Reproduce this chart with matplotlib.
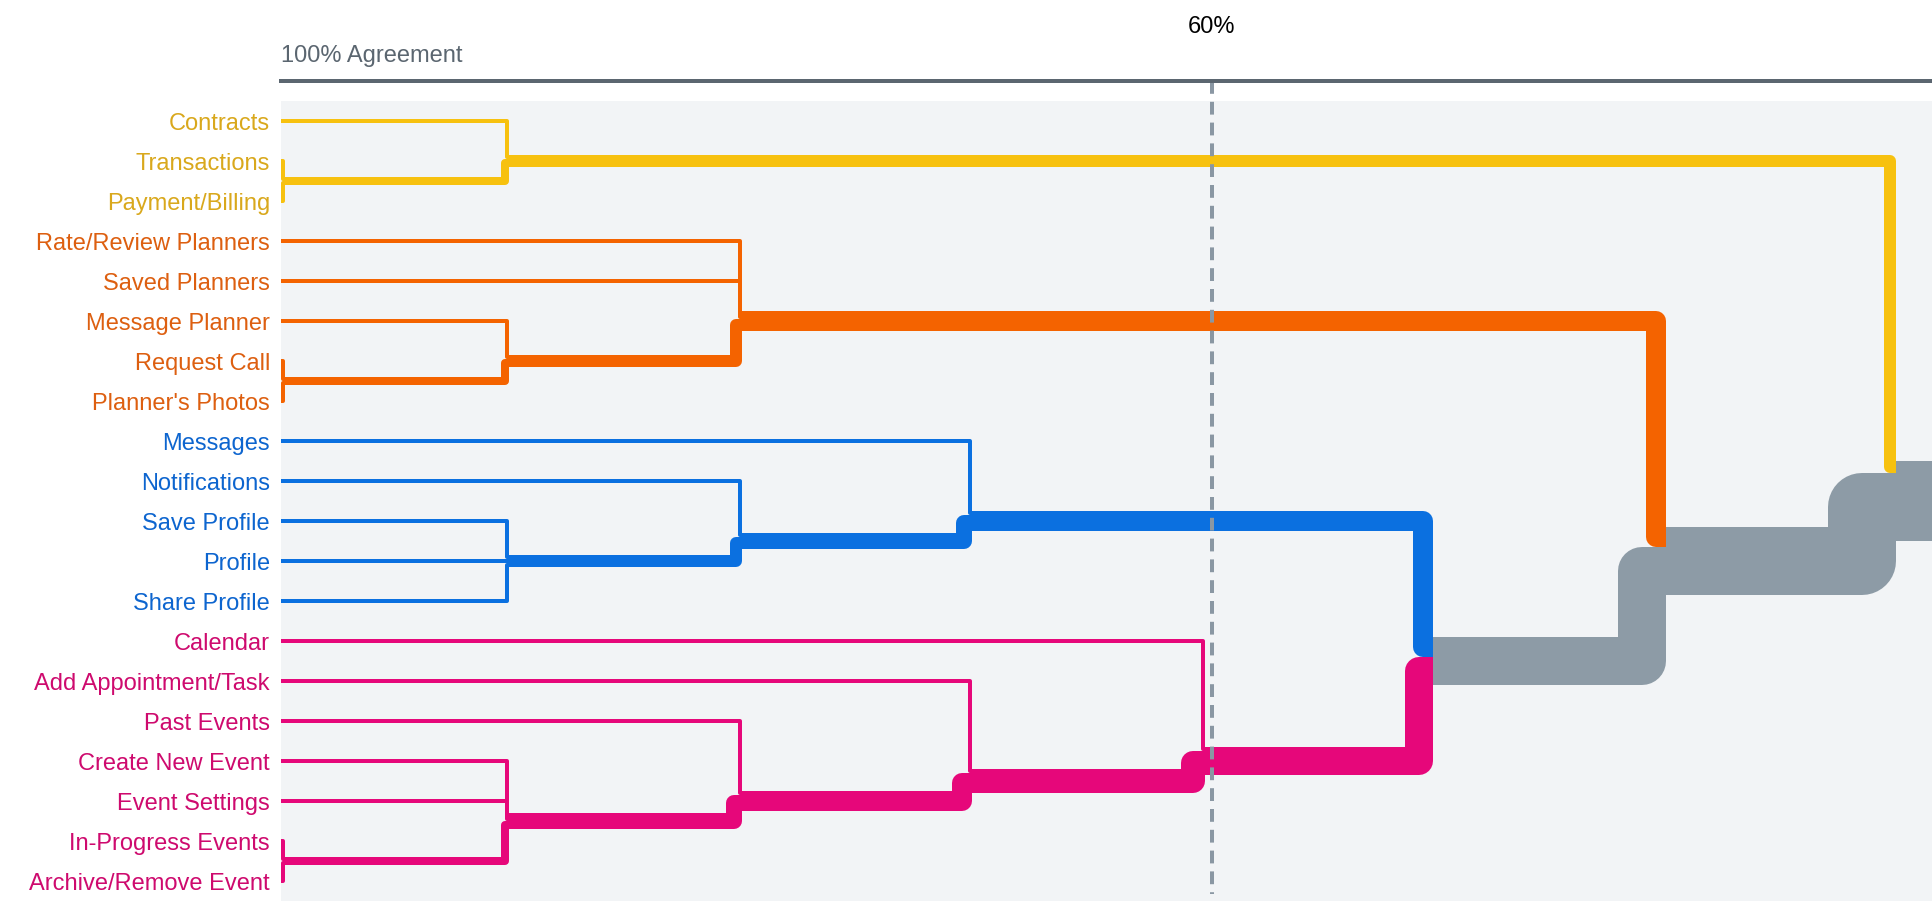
import matplotlib
matplotlib.use("Agg")
import matplotlib.pyplot as plt
from matplotlib.lines import Line2D
from matplotlib.transforms import blended_transform_factory

plt.rcParams['font.family'] = ['Liberation Sans', 'DejaVu Sans']

# ---------------- data ----------------
labels = ["Contracts", "Transactions", "Payment/Billing",
          "Rate/Review Planners", "Saved Planners", "Message Planner", "Request Call", "Planner's Photos",
          "Messages", "Notifications", "Save Profile", "Profile", "Share Profile",
          "Calendar", "Add Appointment/Task", "Past Events", "Create New Event", "Event Settings",
          "In-Progress Events", "Archive/Remove Event"]
label_group = [0, 0, 0, 1, 1, 1, 1, 1, 2, 2, 2, 2, 2, 3, 3, 3, 3, 3, 3, 3]

# merges (node ids: leaves 0..19, merges 20..)
merge_children = [[1, 2], [0, 20], [6, 7], [5, 22], [3, 4, 23],
                  [10, 11, 12], [9, 25], [8, 26],
                  [18, 19], [16, 17, 28], [15, 29], [14, 30], [13, 31],
                  [27, 32], [24, 33], [21, 34]]
merge_agreement = [100.0, 90.2, 100.0, 90.2, 80.2,
                   90.2, 80.2, 70.3,
                   100.0, 90.2, 80.2, 70.3, 60.3,
                   50.5, 40.5, 30.6]
threshold = 60

line_colors = ["#F7C10F", "#F46300", "#0B70E0", "#E6077A"]
text_colors = ["#D9A81C", "#DD5F10", "#0D65CF", "#CE0A6E"]
mixed_color = "#8D9BA6"

# ---------------- layout ----------------
W, H = 1932, 912
fig = plt.figure(figsize=(W / 100, H / 100), dpi=100)
ax_left, ax_top, ax_bottom = 281, 102, 902
ax = fig.add_axes([ax_left / W, (H - ax_bottom) / H, (W - ax_left) / W, (ax_bottom - ax_top) / H])
ax.set_facecolor("#F2F4F6")
x_right = 29.05
ax.set_xlim(100, x_right)
ax.set_ylim(len(labels) - 0.5, -0.5)
ax.set_xticks([])
ax.set_yticks([])
for s in ax.spines.values():
    s.set_visible(False)

px_per_pct = (W - ax_left) / (100 - x_right)
px_per_row = (ax_bottom - ax_top) / len(labels)
unit_px = 4.0  # band width per item, pixels

# ---------------- tree geometry ----------------
n_leaves = len(labels)
node_n = [1] * n_leaves
node_y = [float(i) for i in range(n_leaves)]
node_grp = list(label_group)
node_x = [100.0] * n_leaves  # where the node's own band starts

for ch, a in zip(merge_children, merge_agreement):
    n = sum(node_n[c] for c in ch)
    y = sum(node_n[c] * node_y[c] for c in ch) / n
    grps = set(node_grp[c] for c in ch)
    g = grps.pop() if len(grps) == 1 else -1
    max_w = max(node_n[c] for c in ch) * unit_px
    xe = min(a, 100 - max_w / px_per_pct)
    node_n.append(n)
    node_y.append(y)
    node_grp.append(g)
    node_x.append(xe)

paths = []  # (n, color, xs, ys)
for k, ch in enumerate(merge_children):
    p = n_leaves + k
    wp = node_n[p] * unit_px
    top = node_y[p] - (wp / 2) / px_per_row
    cum = 0.0
    for c in sorted(ch, key=lambda c: node_y[c]):
        wc = node_n[c] * unit_px
        yport = top + (cum + wc / 2) / px_per_row
        cum += wc
        xv = node_x[p] + (wc / 2) / px_per_pct
        xs = [node_x[c], xv, xv, node_x[p]]
        ys = [node_y[c], node_y[c], yport, yport]
        col = line_colors[node_grp[c]] if node_grp[c] >= 0 else mixed_color
        paths.append((node_n[c], col, xs, ys))

root = len(node_n) - 1
paths.append((node_n[root], mixed_color, [node_x[root], x_right - 5], [node_y[root], node_y[root]]))

for n, col, xs, ys in sorted(paths, key=lambda t: -t[0]):
    ln = Line2D(xs, ys, color=col, lw=n * unit_px * 0.72,
                solid_joinstyle='round', solid_capstyle='butt', zorder=3)
    ax.add_line(ln)

# ---------------- labels ----------------
for i, lab in enumerate(labels):
    ax.annotate(lab, xy=(100, i), xycoords='data',
                xytext=(-11 * 0.72, -8.5 * 0.72), textcoords='offset points',
                ha='right', va='baseline', fontsize=17,
                color=text_colors[label_group[i]], annotation_clip=False)

axis_col = "#5B6670"
fig.text(ax_left / W, 1 - 62 / H, "100% Agreement", fontsize=17, color=axis_col,
         ha='left', va='baseline')
fig.add_artist(Line2D([ax_left / W, 1], [1 - 82 / H, 1 - 82 / H], lw=4 * 0.72,
                      color=axis_col, transform=fig.transFigure))

trans = blended_transform_factory(ax.transData, fig.transFigure)
ax.plot([threshold, threshold], [1 - 82 / H, 1 - 895 / H], transform=trans,
        color="#8A97A3", lw=4 * 0.72, linestyle=(0, (3.2, 2)), clip_on=False, zorder=10,
        dash_capstyle='butt')
ax.text(threshold, 1 - 33 / H, f"{threshold}%", transform=trans, ha='center',
        va='baseline', fontsize=17, color='black')

fig.savefig("out.png", dpi=100)
